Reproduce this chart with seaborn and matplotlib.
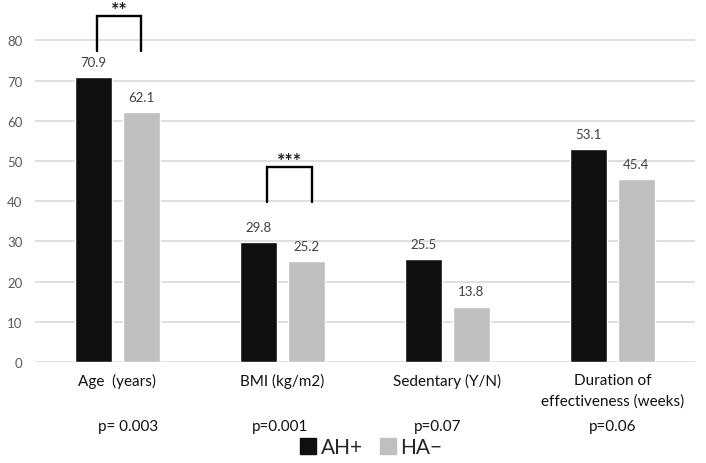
import matplotlib
matplotlib.use("Agg")
import matplotlib.pyplot as plt
from matplotlib.lines import Line2D
import matplotlib.transforms as mtransforms
import seaborn as sns
import pandas as pd

categories = ["Age  (years)", "BMI (kg/m2)", "Sedentary (Y/N)", "Duration of\neffectiveness (weeks)"]
groups = ["AH+", "HA\u2212"]
ah_plus = [70.9, 29.8, 25.5, 53.1]
ha_minus = [62.1, 25.2, 13.8, 45.4]
p_values = ["p= 0.003", "p=0.001", "p=0.07", "p=0.06"]
y_ticks = [0, 10, 20, 30, 40, 50, 60, 70, 80]
# significance brackets: (category index, stars)
brackets = [(0, "**"), (1, "***")]

colors = ["#0f0f0f", "#bfbfbf"]

sns.set_style("white")
plt.rcParams["font.family"] = ["Lato", "DejaVu Sans"]

df = pd.DataFrame({
    "category": categories * 2,
    "group": [groups[0]] * 4 + [groups[1]] * 4,
    "value": ah_plus + ha_minus,
})

fig = plt.figure(figsize=(7.06, 4.64), dpi=100)
ax = fig.add_axes([35 / 706, 1 - 363 / 464, 660 / 706, 361.8 / 464])

sns.barplot(data=df, x="category", y="value", hue="group", hue_order=groups,
            order=categories, palette=colors, width=0.58, gap=0.22,
            saturation=1, ax=ax, legend=False, errorbar=None)

ax.set_ylim(0, 90)
ax.set_xlim(-0.5, len(categories) - 0.5)
ax.set_yticks(y_ticks)
ax.yaxis.grid(True, color="#d9d9d9", linewidth=1.2)
ax.set_axisbelow(True)
for s in ax.spines.values():
    s.set_visible(False)
ax.set_xlabel("")
ax.set_ylabel("")
ax.tick_params(axis="y", length=0, pad=9, labelsize=9.5, labelcolor="#595959")
ax.tick_params(axis="x", length=0, pad=8, labelsize=11, labelcolor="#111111")
for lbl in ax.get_xticklabels():
    lbl.set_linespacing(1.55)

for cont in ax.containers:
    ax.bar_label(cont, fmt="%.1f", padding=6.5, fontsize=9.5, color="#404040")

# p-values under category labels
p_offsets = [0.064, -0.015, -0.058, 0.0]
trans = mtransforms.blended_transform_factory(ax.transData, fig.transFigure)
for i, (p, off) in enumerate(zip(p_values, p_offsets)):
    fig.text(i + off, 1 - 427 / 464, p, transform=trans, ha="center", va="center",
             fontsize=11, color="#111111")

# significance brackets
bracket_geom = {0: (-0.124, 0.142, 77.4, 86.1), 1: (-0.094, 0.179, 39.8, 48.5)}
for idx, stars in brackets:
    x0, x1, yb, yt = bracket_geom[idx]
    ax.plot([idx + x0, idx + x0, idx + x1, idx + x1], [yb, yt, yt, yb],
            color="black", linewidth=1.7, clip_on=False, solid_joinstyle="miter")
    ax.text(idx + (x0 + x1) / 2, yt + 0.3, stars, ha="center", va="baseline",
            fontsize=14, fontweight="bold", color="#1c1c2e", clip_on=False)

handles = [Line2D([], [], marker="s", linestyle="none", markersize=11,
                  markerfacecolor=c, markeredgecolor=c) for c in colors]
fig.legend(handles, groups, loc="center", bbox_to_anchor=(371 / 706, 1 - 448 / 464),
           ncol=2, frameon=False, fontsize=15, handletextpad=0.2,
           columnspacing=0.8, handlelength=0.8, borderpad=0, borderaxespad=0)

fig.savefig("out.png", dpi=100)
